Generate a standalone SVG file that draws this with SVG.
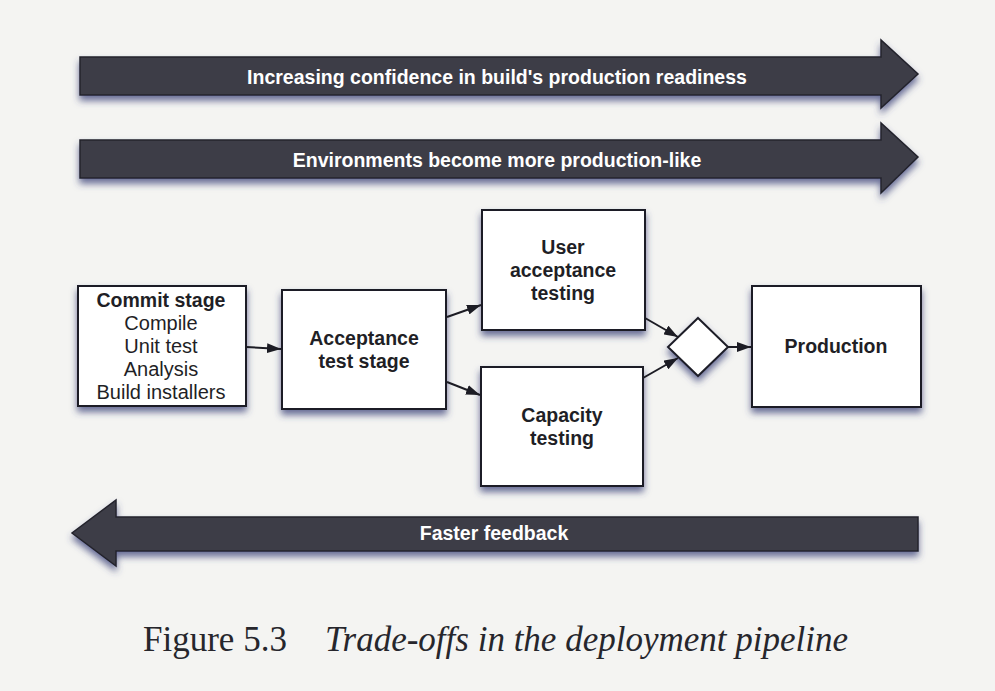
<svg xmlns="http://www.w3.org/2000/svg" width="995" height="691" viewBox="0 0 995 691">
  <defs>
    <filter id="sh" x="-20%" y="-30%" width="140%" height="170%">
      <feDropShadow dx="0" dy="5" stdDeviation="3.5" flood-color="#3b3f78" flood-opacity="0.75"/>
    </filter>
    <marker id="ah" viewBox="0 0 14 10" refX="14" refY="5" markerWidth="14" markerHeight="10" markerUnits="userSpaceOnUse" orient="auto">
      <path d="M0,0 L14,5 L0,10 z" fill="#1c1c24"/>
    </marker>
  </defs>
  <style>
    .band { fill: #3c3c47; stroke: #23232b; stroke-width: 1.5; filter: url(#sh); }
    .bandtxt { fill: #ffffff; font-family: "Liberation Sans", Arial, sans-serif; font-weight: bold; font-size: 19.5px; text-anchor: middle; }
    .box { fill: #ffffff; stroke: #1f1f28; stroke-width: 2; filter: url(#sh); }
    .b { fill: #1f1f26; font-family: "Liberation Sans", Arial, sans-serif; font-weight: bold; font-size: 19.5px; text-anchor: middle; }
    .r { fill: #1f1f26; font-family: "Liberation Sans", Arial, sans-serif; font-size: 20px; text-anchor: middle; }
    .conn { stroke: #1c1c24; stroke-width: 2; fill: none; marker-end: url(#ah); }
    .cap { fill: #26262c; font-family: "Liberation Serif", "Times New Roman", serif; font-size: 35px; }
  </style>
  <rect x="0" y="0" width="995" height="691" fill="#f4f4f2"/>

  <g id="band-confidence">
    <path class="band" d="M80,57 L881,57 L881,40 L918,74 L881,108 L881,95 L80,95 Z"/>
    <text class="bandtxt" x="497" y="84">Increasing confidence in build's production readiness</text>
  </g>
  <g id="band-environments">
    <path class="band" d="M80,140 L881,140 L881,123 L918,157 L881,193 L881,178 L80,178 Z"/>
    <text class="bandtxt" x="497" y="167">Environments become more production-like</text>
  </g>
  <g id="band-feedback">
    <path class="band" d="M918,517 L116,517 L116,500 L72,533 L116,566 L116,551 L918,551 Z"/>
    <text class="bandtxt" x="494" y="540">Faster feedback</text>
  </g>

  <g id="commit">
    <rect class="box" x="78" y="286" width="168" height="120"/>
    <text class="b" x="161" y="307">Commit stage</text>
    <text class="r" x="161" y="330">Compile</text>
    <text class="r" x="161" y="353">Unit test</text>
    <text class="r" x="161" y="376">Analysis</text>
    <text class="r" x="161" y="399">Build installers</text>
  </g>
  <g id="acceptance">
    <rect class="box" x="282" y="290" width="164" height="119"/>
    <text class="b" x="364" y="345">Acceptance</text>
    <text class="b" x="364" y="368">test stage</text>
  </g>
  <g id="uat">
    <rect class="box" x="482" y="210" width="163" height="120"/>
    <text class="b" x="563" y="254">User</text>
    <text class="b" x="563" y="277">acceptance</text>
    <text class="b" x="563" y="300">testing</text>
  </g>
  <g id="capacity">
    <rect class="box" x="481" y="367" width="162" height="119"/>
    <text class="b" x="562" y="422">Capacity</text>
    <text class="b" x="562" y="445">testing</text>
  </g>
  <g id="gate">
    <path class="box" d="M698,318 L728,347 L698,376 L668,347 Z"/>
  </g>
  <g id="production">
    <rect class="box" x="752" y="286" width="169" height="121"/>
    <text class="b" x="836" y="353">Production</text>
  </g>

  <g id="connectors">
    <line class="conn" x1="246" y1="347" x2="281" y2="349"/>
    <line class="conn" x1="447" y1="317" x2="481" y2="305"/>
    <line class="conn" x1="447" y1="382" x2="480" y2="395"/>
    <line class="conn" x1="645" y1="318" x2="678" y2="337"/>
    <line class="conn" x1="643" y1="378" x2="678" y2="358"/>
    <line class="conn" x1="728" y1="347" x2="751" y2="347"/>
  </g>

  <g id="caption">
    <text class="cap" x="143" y="651">Figure 5.3</text>
    <text class="cap" x="325" y="651" font-style="italic" font-size="35.5">Trade-offs in the deployment pipeline</text>
  </g>
</svg>
